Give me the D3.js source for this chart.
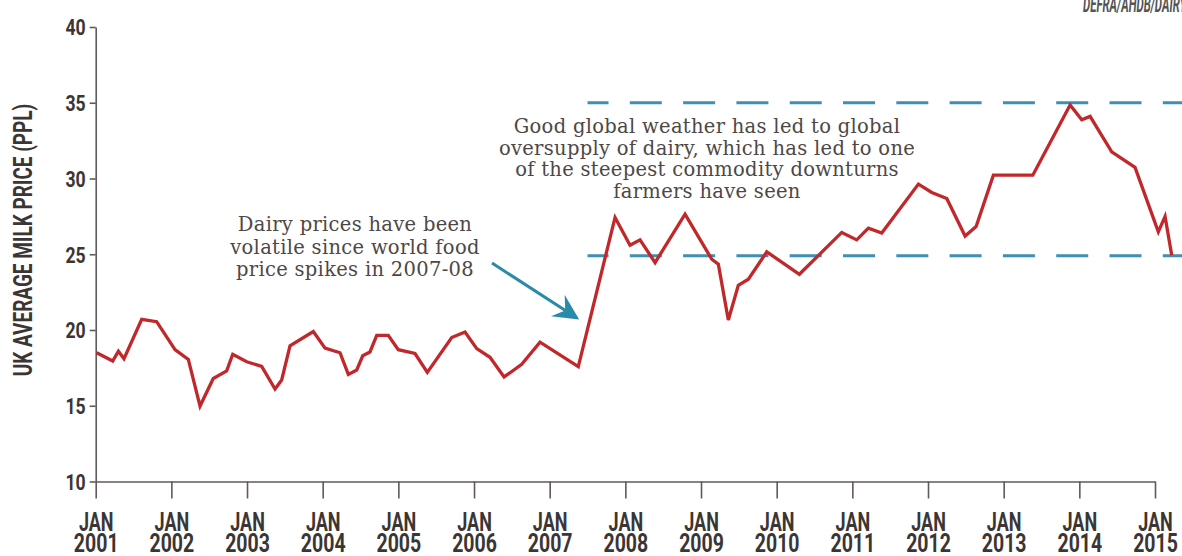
<!DOCTYPE html>
<html><head><meta charset="utf-8">
<script src="https://cdn.jsdelivr.net/npm/d3@7"></script>
<style>
html,body{margin:0;padding:0;background:#fff;overflow:hidden;}
svg{display:block;}
.cond{font-family:"Roboto","Liberation Sans",sans-serif;font-weight:700;}
.serif{font-family:"DejaVu Serif","Liberation Serif",serif;}
</style>
</head><body>
<svg id="chart" width="1182" height="556"></svg>
<script>
// ---- data (decimal year, pence per litre) ----
const dates = [2001.013,2001.225,2001.30,2001.374,2001.608,2001.806,2002.048,2002.224,2002.379,2002.554,
  2002.731,2002.811,2002.996,2003.194,2003.370,2003.458,2003.568,2003.876,2004.031,2004.229,
  2004.339,2004.45,2004.529,2004.625,2004.714,2004.867,2004.999,2005.22,2005.383,2005.705,
  2005.881,2006.036,2006.211,2006.397,2006.63,2006.872,2007.378,2007.864,2008.062,2008.194,
  2008.393,2008.789,2009.142,2009.229,2009.361,2009.493,2009.626,2009.869,2010.30,2010.86,
  2011.058,2011.212,2011.389,2011.873,2012.05,2012.248,2012.49,2012.636,2012.864,2013.385,
  2013.878,2014.032,2014.142,2014.428,2014.736,2015.044,2015.133,2015.221];
const prices = [18.5,17.95,18.6,18.1,20.7,20.55,18.7,18.06,14.98,16.8,
  17.3,18.4,17.9,17.6,16.1,16.7,18.95,19.9,18.8,18.5,
  17.07,17.36,18.3,18.55,19.65,19.65,18.7,18.45,17.2,19.5,
  19.87,18.77,18.2,16.9,17.73,19.2,17.58,27.43,25.6,25.95,
  24.45,27.65,24.67,24.34,20.66,22.95,23.35,25.16,23.68,26.44,
  25.95,26.72,26.4,29.63,29.08,28.68,26.2,26.83,30.22,30.22,
  34.85,33.88,34.1,31.76,30.73,26.48,27.5,24.94];
const tickYears = [2001,2002,2003,2004,2005,2006,2007,2008,2009,2010,2011,2012,2013,2014,2015];
const tickMonth = "JAN";
const yTicks = [10,15,20,25,30,35,40];
const refLevels = [35, 24.9];
const refStartYear = 2007.5;
const yTitle = "UK AVERAGE MILK PRICE (PPL)";
const sourceText = "DEFRA/AHDB/DAIRYCO";
const note1 = ["Dairy prices have been","volatile since world food","price spikes in 2007-08"];
const note2 = ["Good global weather has led to global","oversupply of dairy, which has led to one","of the steepest commodity downturns","farmers have seen"];
const arrowFrom = [2006.238, 24.42];
const arrowTo = [2007.361, 20.79];

// ---- drawing ----
const W = 1182, H = 556;
const svg = d3.select("#chart");
const x = d3.scaleLinear().domain([2001, 2015]).range([95.7, 1155]);
const y = d3.scaleLinear().domain([10, 40]).range([481.5, 27]);
const axisCol = "#625a57", textCol = "#3b3634";

// condensed text helper
function condText(parent, tx, ty, str, size, anchor, sx, rot){
  const g = parent.append("g").attr("transform", `translate(${tx},${ty})` + (rot ? ` rotate(${rot})` : ""));
  return g.append("text").attr("class","cond").attr("transform", `scale(${sx},1)`)
    .attr("text-anchor", anchor).attr("font-size", size).attr("fill", textCol).text(str);
}

// reference dashed lines
svg.append("g").selectAll("line").data(refLevels).join("line")
  .attr("x1", x(refStartYear)).attr("x2", W)
  .attr("y1", d => y(d)).attr("y2", d => y(d))
  .attr("stroke", "#3d8fb3").attr("stroke-width", 3)
  .attr("stroke-dasharray", "32,21.3").attr("stroke-dashoffset", 11);

// y axis
const yAxis = svg.append("g").attr("transform", `translate(${x(2001)},0)`)
  .call(d3.axisLeft(y).tickValues(yTicks).tickSize(6).tickSizeOuter(0).tickFormat(""));
yAxis.select(".domain").attr("stroke", axisCol).attr("stroke-width", 1.6);
yAxis.selectAll(".tick line").attr("stroke", axisCol).attr("stroke-width", 1.6);
yAxis.selectAll(".tick text").remove();
yAxis.selectAll(".tick").each(function(d){
  condText(d3.select(this), -10, 7.8, d, 22, "end", 0.8);
});

// x axis
const xAxis = svg.append("g").attr("transform", `translate(0,${y(10)})`)
  .call(d3.axisBottom(x).tickValues(tickYears).tickSize(17).tickSizeOuter(0).tickFormat(""));
xAxis.select(".domain").attr("stroke", axisCol).attr("stroke-width", 1.6);
xAxis.selectAll(".tick line").attr("stroke", axisCol).attr("stroke-width", 1.6);
xAxis.selectAll(".tick text").remove();
xAxis.selectAll(".tick").each(function(d){
  const t = d3.select(this);
  condText(t, 0, 49, tickMonth, 25, "middle", 0.72);
  condText(t, 0, 70.5, d, 25, "middle", 0.78);
});

// y title
condText(svg, 32, 240, yTitle, 25, "middle", 0.76, -90);

// source
condText(svg, 1083, 12, sourceText, 22, "start", 0.52).attr("font-style","italic")
  .attr("font-weight", 400).attr("fill","#555");

// price line
const line = d3.line().x((d,i) => x(dates[i])).y(d => y(d));
svg.append("path").datum(prices).attr("d", line)
  .attr("fill","none").attr("stroke","#c0282b").attr("stroke-width",3.3)
  .attr("stroke-linejoin","miter");

// annotations
function note(lines, cx, y0, lh){
  const t = svg.append("text").attr("class","serif").attr("text-anchor","middle")
    .attr("font-size", 19.5).attr("letter-spacing", 0.3).attr("fill", "#4d4846");
  lines.forEach((l,i) => t.append("tspan").attr("x", cx).attr("y", y0 + i*lh).text(l));
}
note(note1, 355, 231, 22.5);
note(note2, 707, 133, 21.5);

// arrow
const defs = svg.append("defs");
defs.append("marker").attr("id","ah").attr("viewBox","0 0 10 10").attr("refX",9).attr("refY",5)
  .attr("markerWidth",8.5).attr("markerHeight",8.5).attr("markerUnits","strokeWidth").attr("orient","auto")
  .append("path").attr("d","M0,0 L10,5 L0,10 L3.5,5 Z").attr("fill","#2a8aa9");
svg.append("line")
  .attr("x1", x(arrowFrom[0])).attr("y1", y(arrowFrom[1]))
  .attr("x2", x(arrowTo[0])).attr("y2", y(arrowTo[1]))
  .attr("stroke","#2a8aa9").attr("stroke-width",3).attr("marker-end","url(#ah)");
</script>
</body></html>
